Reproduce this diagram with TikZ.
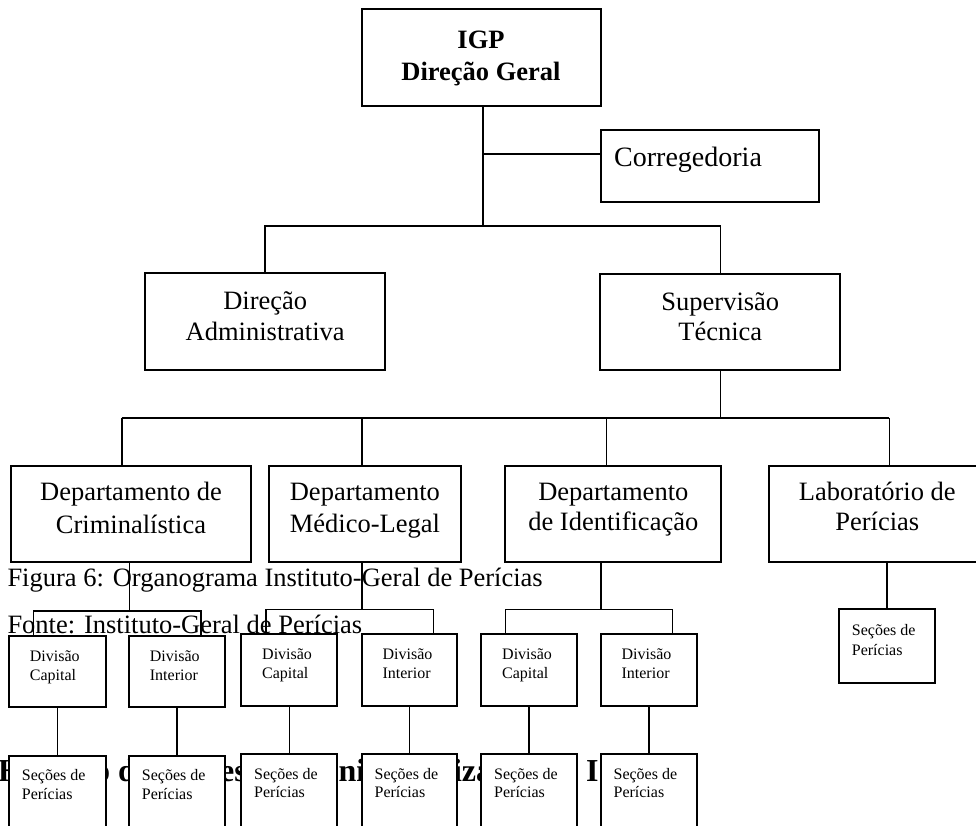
\documentclass[tikz,border=0pt]{standalone}
\usepackage{fontspec}
\setmainfont{Liberation Serif}
\tikzset{
  box/.style={draw, line width=1.9pt, fill=white, rectangle, inner sep=0pt, outer sep=0pt, anchor=north west},
  conn/.style={line width=1.6pt},
  big/.style={font=\fontsize{26.5}{31}\selectfont, inner sep=0pt, anchor=base},
  bigb/.style={font=\fontsize{26.5}{31}\selectfont\bfseries, inner sep=0pt, anchor=base},
  small/.style={font=\fontsize{16}{19}\selectfont, inner sep=0pt, anchor=base west},
  head/.style={font=\fontsize{32}{36}\selectfont\bfseries, inner sep=0pt, anchor=base west},
}
\newcommand{\obox}[5]{\node[box, minimum width={#4-#2}, minimum height={#5-#3}] (#1) at (#2,#3) {};}
\begin{document}
\begin{tikzpicture}[x=1pt,y=-1pt]
\useasboundingbox (0,0) rectangle (976,826);
% partly hidden heading behind the boxes
\node[head] (h1) at (-2,781.7) {H};
\node[head] (h2) at (94,781.7) {o d};
\node[head] (h3) at (220,781.7) {es};
\node[head] (h4) at (329.5,781.7) {ini};
\node[head] (h5) at (452.8,781.7) {iza};
\node[head] (h6) at (586,781.7) {I};
% boxes
\obox{igp}{361.7}{9.3}{601}{106}
\obox{corr}{601}{130}{819.3}{201.7}
\obox{dadm}{145}{273.3}{385.3}{370}
\obox{sup}{600.3}{274}{840.3}{370}
\obox{crim}{11}{465.7}{251}{561.7}
\obox{med}{268.7}{465.7}{461}{561.7}
\obox{ident}{505.3}{465.7}{721.3}{561.7}
\obox{lab}{769.3}{465.7}{985.3}{561.7}
\obox{cc}{9}{635.7}{105.7}{706.7}
\obox{ci}{129}{635.7}{225.3}{706.7}
\obox{mc}{241.3}{634}{337.3}{705.7}
\obox{mi}{361.7}{634}{457.3}{705.7}
\obox{ic}{481.3}{634}{577}{705.7}
\obox{ii}{600.7}{634}{696.7}{705.7}
\obox{labs}{839}{609.3}{935}{682.7}
\obox{scc}{9}{756}{105.7}{830}
\obox{sci}{129}{756}{225.3}{830}
\obox{smc}{241.3}{754}{337.3}{830}
\obox{smi}{361.7}{754}{457.3}{830}
\obox{sic}{481.3}{754}{577}{830}
\obox{sii}{600.7}{754}{696.7}{830}
% connectors
\coordinate (j0) at (482.7,226);
\coordinate (cb) at (482.7,154);
\draw[conn] (igp.south -| j0) -- (j0);
\draw[conn] (cb) -- (cb -| corr.west);
\draw[conn] (dadm.north) |- (j0) -| (sup.north);
\coordinate (t1) at (121.7,417.7);
\coordinate (t2) at (361.7,417.7);
\coordinate (t3) at (606.3,417.7);
\coordinate (t4) at (889.3,417.7);
\draw[conn] (sup.south) -- (sup.south |- t1);
\draw[conn] (t1) -- (t4);
\draw[conn] (t1) -- (t1 |- crim.north);
\draw[conn] (t2) -- (t2 |- med.north);
\draw[conn] (t3) -- (t3 |- ident.north);
\draw[conn] (t4) -- (t4 |- lab.north);
\coordinate (c0) at (129.3,610.7);
\coordinate (c1) at (33.3,610.7);
\coordinate (c2) at (201,610.7);
\draw[conn] (c0 |- crim.south) -- (c0);
\draw[conn] (c1 |- cc.north) -- (c1) -- (c2) -- (c2 |- ci.north);
\coordinate (m0) at (361.7,609.3);
\coordinate (m1) at (266,609.3);
\coordinate (m2) at (433.3,609.3);
\draw[conn] (m0 |- med.south) -- (m0);
\draw[conn] (m1 |- mc.north) -- (m1) -- (m2) -- (m2 |- mi.north);
\coordinate (i0) at (600.7,609.3);
\coordinate (i1) at (505.3,609.3);
\coordinate (i2) at (672.3,609.3);
\draw[conn] (i0 |- ident.south) -- (i0);
\draw[conn] (i1 |- ic.north) -- (i1) -- (i2) -- (i2 |- ii.north);
\draw[conn] (labs.north |- lab.south) -- (labs.north);
\draw[conn] (cc.south) -- (scc.north);
\draw[conn] (ci.south) -- (sci.north);
\draw[conn] (mc.south) -- (smc.north);
\draw[conn] (mi.south) -- (smi.north);
\draw[conn] (ic.south) -- (sic.north);
\draw[conn] (ii.south) -- (sii.north);
% texts
\node[bigb] (igpa) at (481,49) {IGP};
\node[bigb] (igpb) at (481,80.5) {Direção Geral};
\node[font=\fontsize{28}{32}\selectfont, inner sep=0pt, anchor=base west] (corrt) at (614,166.5) {Corregedoria};
\node[big] (dadma) at (265.2,309) {Direção};
\node[big] (dadmb) at (265.2,340) {Administrativa};
\node[big] (supa) at (720.3,310) {Supervisão};
\node[big] (supb) at (720.3,340) {Técnica};
\node[big] (crima) at (131,500.7) {Departamento de};
\node[big] (crimb) at (131,533) {Criminalística};
\node[big] (meda) at (364.9,500.7) {Departamento};
\node[big] (medb) at (364.9,532) {Médico-Legal};
\node[big] (identa) at (613.3,500.7) {Departamento};
\node[big] (identb) at (613.3,530.7) {de Identificação};
\node[big] (laba) at (877.3,500.7) {Laboratório de};
\node[big] (labb) at (877.3,530.7) {Perícias};
% divisions
\node[small] (cca) at (29.7,661.7) {Divisão};
\node[small] (ccb) at (29.7,680.7) {Capital};
\node[small] (cia) at (149.7,661.7) {Divisão};
\node[small] (cib) at (149.7,680.7) {Interior};
\node[small] (mca) at (262,659.3) {Divisão};
\node[small] (mcb) at (262,678.3) {Capital};
\node[small] (mia) at (382.4,659.3) {Divisão};
\node[small] (mib) at (382.4,678.3) {Interior};
\node[small] (ica) at (502,659.3) {Divisão};
\node[small] (icb) at (502,678.3) {Capital};
\node[small] (iia) at (621.4,659.3) {Divisão};
\node[small] (iib) at (621.4,678.3) {Interior};
% secoes
\node[small] (labsa) at (851.7,635) {Seções de};
\node[small] (labsb) at (851.7,655) {Perícias};
\node[small] (scca) at (21.7,780.7) {Seções de};
\node[small] (sccb) at (21.7,799.3) {Perícias};
\node[small] (scia) at (141.7,780.7) {Seções de};
\node[small] (scib) at (141.7,799.3) {Perícias};
\node[small] (smca) at (254,779) {Seções de};
\node[small] (smcb) at (254,797.7) {Perícias};
\node[small] (smia) at (374.4,779) {Seções de};
\node[small] (smib) at (374.4,797.7) {Perícias};
\node[small] (sica) at (494,779) {Seções de};
\node[small] (sicb) at (494,797.7) {Perícias};
\node[small] (siia) at (613.4,779) {Seções de};
\node[small] (siib) at (613.4,797.7) {Perícias};
% captions
\node[big, anchor=base west] (fig) at (7.3,586.7) {Figura 6: Organograma Instituto-Geral de Perícias};
\node[big, anchor=base west] (fonte) at (7.3,633.3) {Fonte: Instituto-Geral de Perícias};
\end{tikzpicture}
\end{document}
